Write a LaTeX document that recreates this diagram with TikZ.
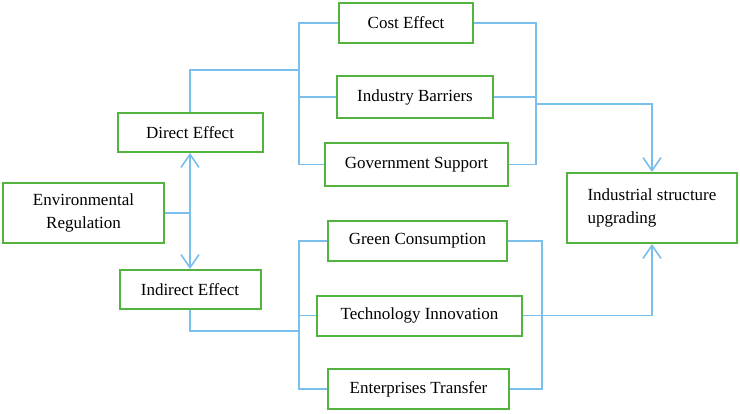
\documentclass[tikz,border=0pt]{standalone}
\usepackage{fontspec}
\setmainfont{Liberation Serif}
\usetikzlibrary{arrows.meta}
\definecolor{boxgreen}{RGB}{84,178,62}
\definecolor{linkblue}{RGB}{122,190,236}
\begin{document}
\begin{tikzpicture}[x=1pt, y=-1pt,
        box/.style={draw=boxgreen, line width=2pt, inner sep=2pt, font=\fontsize{17}{23}\selectfont},
        link/.style={draw=linkblue, line width=1.6pt},
        tip/.style={-{Straight Barb[length=13pt, width=18pt, line width=1.6pt]}}]
            \useasboundingbox (0, 0) rectangle (740, 413);

            % Boxes
            \node[box, minimum width=161pt, minimum height=60pt, align=center] (env) at (83.5, 213) {Environmental\\Regulation};
            \node[box, minimum width=145pt, minimum height=39pt] (direct) at (190, 132.5) {Direct Effect};
            \node[box, minimum width=141pt, minimum height=39pt] (indirect) at (190, 289.5) {Indirect Effect};
            \node[box, minimum width=134pt, minimum height=40pt] (cost) at (406, 23) {Cost Effect};
            \node[box, minimum width=156pt, minimum height=42pt] (barrier) at (415, 97) {Industry Barriers};
            \node[box, minimum width=183pt, minimum height=43pt] (gov) at (416.5, 164.5) {Government Support};
            \node[box, minimum width=179pt, minimum height=40pt] (green) at (417.5, 241) {Green Consumption};
            \node[box, minimum width=205pt, minimum height=40pt] (tech) at (419.5, 315.5) {Technology Innovation};
            \node[box, minimum width=181pt, minimum height=40pt] (transfer) at (418.5, 389) {Enterprises Transfer};
            \node[box, minimum width=170pt, minimum height=70pt, align=left] (isu) at (652, 208) {Industrial structure\\upgrading};

            % Environmental regulation
            \draw[link, tip] (env.east) -- (env.east -| direct.south) -- (direct.south);
            \draw[link, tip] (env.east -| direct.south) -- (indirect.north);

            % Direct effect
            \coordinate (dtop) at (299, 23);
            \coordinate (dbot) at (299, 164.5);
            \coordinate (dmid) at (299, 70);
            \draw[link] (direct.north) |- (dmid);
            \draw[link] (cost.west) -- (dtop) -- (dbot) -- (gov.west);
            \draw[link] (barrier.west) -- (barrier.west -| dtop);
            \coordinate (etop) at (536, 23);
            \coordinate (ebot) at (536, 164.5);
            \coordinate (emid) at (536, 104);
            \draw[link] (cost.east) -- (etop) -- (ebot) -- (gov.east);
            \draw[link] (barrier.east) -- (barrier.east -| etop);
            \draw[link, tip] (emid) -| (isu.north);

            % Indirect effect
            \coordinate (itop) at (299, 241);
            \coordinate (ibot) at (299, 389);
            \coordinate (imid) at (299, 331);
            \draw[link] (indirect.south) |- (imid);
            \draw[link] (green.west) -- (itop) -- (ibot) -- (transfer.west);
            \draw[link] (tech.west) -- (tech.west -| itop);
            \coordinate (jtop) at (542, 241);
            \coordinate (jbot) at (542, 389);
            \draw[link] (green.east) -- (jtop) -- (jbot) -- (transfer.east);
            \draw[link, tip] (tech.east) -| (isu.south);

        \end{tikzpicture}
\end{document}
